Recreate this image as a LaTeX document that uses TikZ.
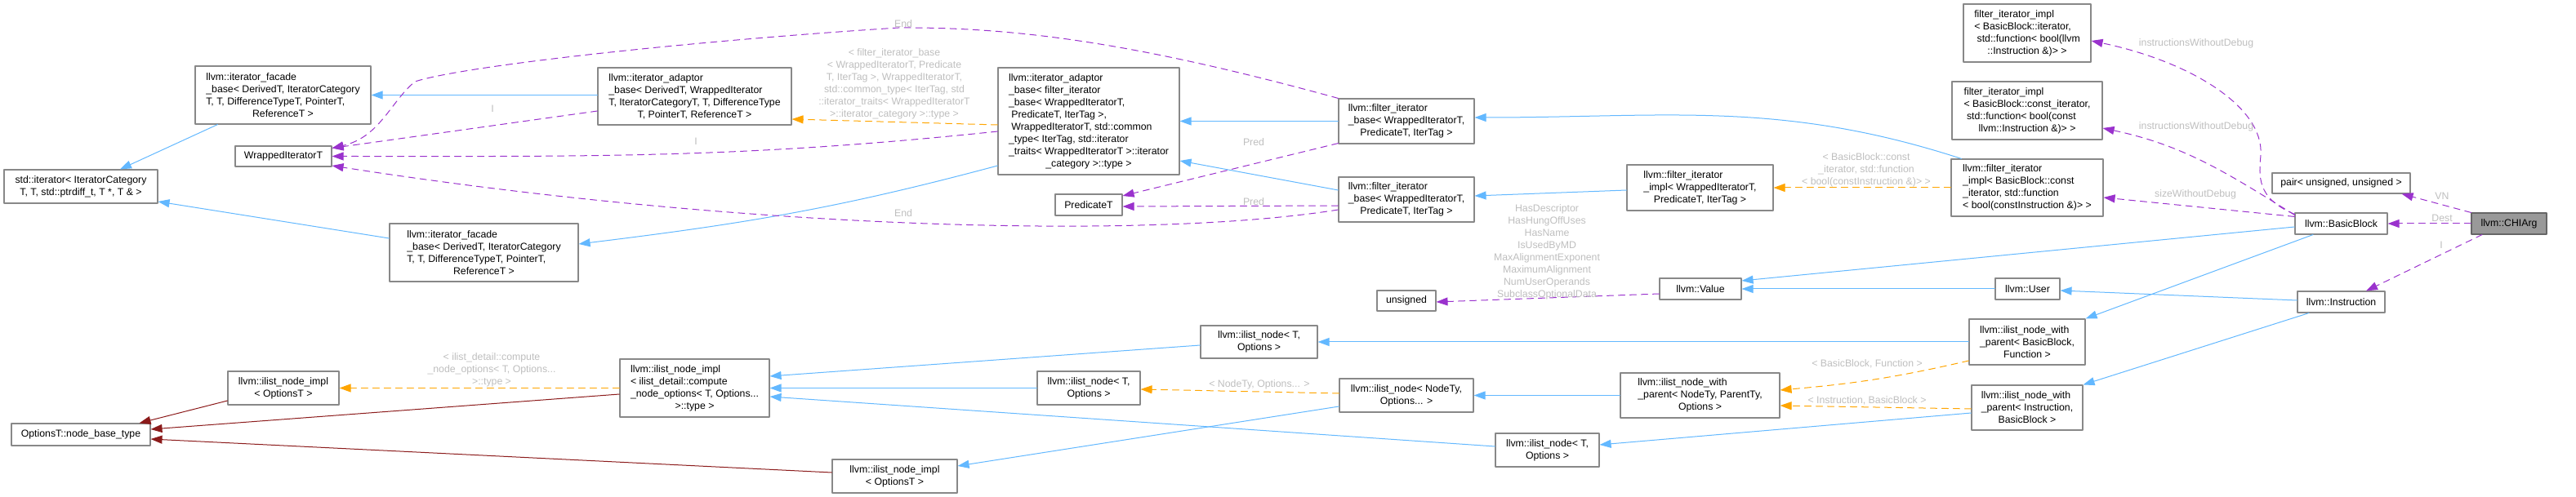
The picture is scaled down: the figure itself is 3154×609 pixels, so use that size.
\documentclass[tikz,border=0pt]{standalone}
\usepackage{fontspec}
\setmainfont{Liberation Sans}
\usetikzlibrary{arrows.meta}

\definecolor{pubblue}{HTML}{63B8FF}
\definecolor{privred}{HTML}{8B1A1A}
\definecolor{tmplorange}{HTML}{FFA500}
\definecolor{usepurple}{HTML}{9A32CD}
\definecolor{lblgray}{HTML}{BEBEBE}
\definecolor{boxgray}{HTML}{888888}
\definecolor{rootfill}{HTML}{999999}
\definecolor{rootedge}{HTML}{666666}

\newcommand{\midline}[1]{\hspace*{\fill}#1\hspace*{\fill}}

\tikzset{
  cls/.style={draw=boxgray, fill=white, line width=1.1pt, inner sep=0pt, align=left,
    font=\fontsize{12.3}{15}\selectfont},
  rootcls/.style={cls, draw=rootedge, fill=rootfill},
  boxsize/.style 2 args={minimum width=#1pt, minimum height=#2pt},
  lbl/.style={text=lblgray, inner sep=0pt, align=center, font=\fontsize{12.3}{15}\selectfont},
  pubinh/.style={color=pubblue, line width=1pt, -{Triangle[length=14pt,width=10pt]}},
  privinh/.style={color=privred, line width=1pt, -{Triangle[length=14pt,width=10pt]}},
  tmpl/.style={color=tmplorange, line width=1pt, dash pattern=on 8pt off 6pt,
    -{Triangle[length=14pt,width=10pt]}},
  usage/.style={color=usepurple, line width=1pt, dash pattern=on 8pt off 6pt,
    -{Triangle[length=14pt,width=10pt]}}
}

\begin{document}
\begin{tikzpicture}[x=1pt,y=-1pt,line cap=round,line join=round]
  \useasboundingbox (0,0) rectangle (3154,609);

  % iterator side
  \node[cls, boxsize={215}{71}] (facadeA) at (346.5,116.5)
    {llvm::iterator\_facade\\\_base< DerivedT, IteratorCategory\\T, T, DifferenceTypeT, PointerT,\\\midline{ReferenceT >}};
  \node[cls, boxsize={118}{25}] (wrapped) at (347,191.5) {WrappedIteratorT};
  \node[cls, boxsize={188}{41}] (stditer) at (99,228.5)
    {std::iterator< IteratorCategory\\\midline{T, T, std::ptrdiff\_t, T *, T \& >}};
  \node[cls, boxsize={231}{71}] (facadeB) at (592.5,309.5)
    {llvm::iterator\_facade\\\_base< DerivedT, IteratorCategory\\T, T, DifferenceTypeT, PointerT,\\\midline{ReferenceT >}};
  \node[cls, boxsize={237}{70}] (adaptorA) at (850.5,118)
    {llvm::iterator\_adaptor\\\_base< DerivedT, WrappedIterator\\T, IteratorCategoryT, T, DifferenceType\\\midline{T, PointerT, ReferenceT >}};
  \node[cls, boxsize={222}{131}] (adaptorB) at (1333,148.5)
    {llvm::iterator\_adaptor\\\_base< filter\_iterator\\\_base< WrappedIteratorT,\\\ PredicateT, IterTag >,\\\ WrappedIteratorT, std::common\\\_type< IterTag, std::iterator\\\_traits< WrappedIteratorT >::iterator\\\midline{\_category >::type >}};
  \node[cls, boxsize={82}{26}] (predicate) at (1333,251) {PredicateT};
  \node[cls, boxsize={166}{55}] (fbaseA) at (1722,148.5)
    {llvm::filter\_iterator\\\_base< WrappedIteratorT,\\\midline{PredicateT, IterTag >}};
  \node[cls, boxsize={166}{55}] (fbaseB) at (1722,244.5)
    {llvm::filter\_iterator\\\_base< WrappedIteratorT,\\\midline{PredicateT, IterTag >}};
  \node[cls, boxsize={179}{56}] (fimpl) at (2081.5,230)
    {llvm::filter\_iterator\\\_impl< WrappedIteratorT,\\\midline{PredicateT, IterTag >}};

  % ilist side
  \node[cls, boxsize={136}{41}] (ilimplA) at (347,475.5)
    {llvm::ilist\_node\_impl\\\midline{< OptionsT >}};
  \node[cls, boxsize={170}{27}] (nodebase) at (99,532.5) {OptionsT::node\_base\_type};
  \node[cls, boxsize={183}{71}] (compute) at (850.5,475.5)
    {llvm::ilist\_node\_impl\\< ilist\_detail::compute\\\_node\_options< T, Options...\\\midline{>::type >}};
  \node[cls, boxsize={153}{41}] (ilimplB) at (1095.5,583.5)
    {llvm::ilist\_node\_impl\\\midline{< OptionsT >}};
  \node[cls, boxsize={143}{40}] (inodeA) at (1541.5,419)
    {llvm::ilist\_node< T,\\\midline{Options >}};
  \node[cls, boxsize={126}{41}] (inodeB) at (1333,475.5)
    {llvm::ilist\_node< T,\\\midline{Options >}};
  \node[cls, boxsize={127}{41}] (inodeC) at (1894.5,551.5)
    {llvm::ilist\_node< T,\\\midline{Options >}};
  \node[cls, boxsize={164}{41}] (inodeNT) at (1722,484.5)
    {llvm::ilist\_node< NodeTy,\\\midline{Options... >}};
  \node[cls, boxsize={195}{55}] (inwpNT) at (2081.5,484.5)
    {llvm::ilist\_node\_with\\\_parent< NodeTy, ParentTy,\\\midline{Options >}};
  \node[cls, boxsize={72}{25}] (unsigned) at (1722,368.5) {unsigned};
  \node[cls, boxsize={100}{26}] (value) at (2082,354) {llvm::Value};

  % right column
  \node[cls, boxsize={156}{71}] (fimplIt) at (2482,40.5)
    {filter\_iterator\_impl\\< BasicBlock::iterator,\\\ std::function< bool(llvm\\\midline{::Instruction \&)> >}};
  \node[cls, boxsize={184}{71}] (fimplCIt) at (2482,135.5)
    {filter\_iterator\_impl\\< BasicBlock::const\_iterator,\\\ std::function< bool(const\\\midline{llvm::Instruction \&)> >}};
  \node[cls, boxsize={186}{70}] (fimplBB) at (2482,230)
    {llvm::filter\_iterator\\\_impl< BasicBlock::const\\\_iterator, std::function\\\midline{< bool(constInstruction \&)> >}};
  \node[cls, boxsize={79}{26}] (user) at (2482.5,354) {llvm::User};
  \node[cls, boxsize={142}{56}] (inwpBB) at (2482,419)
    {llvm::ilist\_node\_with\\\_parent< BasicBlock,\\\midline{Function >}};
  \node[cls, boxsize={136}{55}] (inwpI) at (2482,499.5)
    {llvm::ilist\_node\_with\\\_parent< Instruction,\\\midline{BasicBlock >}};
  \node[cls, boxsize={169}{25}] (pair) at (2866.5,224.5) {pair< unsigned, unsigned >};
  \node[cls, boxsize={113}{26}] (bblock) at (2866.5,274) {llvm::BasicBlock};
  \node[cls, boxsize={107}{26}] (instr) at (2866.5,370) {llvm::Instruction};
  \node[rootcls, boxsize={92}{26}] (chiarg) at (3072,274) {llvm::CHIArg};

  % public inheritance
  \draw[pubinh] ([xshift=-80pt]facadeA.south) -- ([xshift=48pt]stditer.north);
  \draw[pubinh] ([yshift=17.5pt]facadeB.west) -- ([yshift=-18.5pt]stditer.east);
  \draw[pubinh] (adaptorA.west |- facadeA.east) -- (facadeA.east);
  \draw[pubinh] ([yshift=-54.5pt]adaptorB.west) to[out=195,in=7] ([yshift=10.5pt]facadeB.east);
  \draw[pubinh] (fbaseA.west) -- (adaptorB.east);
  \draw[pubinh] ([yshift=11.5pt]fbaseB.west) -- ([yshift=-48.5pt]adaptorB.east);
  \draw[pubinh] ([yshift=-3pt]fimpl.west) -- ([yshift=4.5pt]fbaseB.east);
  \draw[pubinh] ([xshift=13pt]fimplBB.north west) to[out=162,in=0] ([yshift=4.5pt]fbaseA.east);
  \draw[pubinh] ([yshift=-4pt]bblock.west) -- ([yshift=10pt]value.east);
  \draw[pubinh] (user.west) -- (value.east);
  \draw[pubinh] ([yshift=2pt]instr.west) -- ([yshift=-2pt]user.east);
  \draw[pubinh] ([xshift=-34.5pt]bblock.south) -- (inwpBB.north east);
  \draw[pubinh] ([xshift=-39.5pt]instr.south) -- (inwpI.north east);
  \draw[pubinh] (inwpBB.west) -- (inodeA.east);
  \draw[pubinh] ([yshift=-6.5pt]inwpI.west) -- ([yshift=6.5pt]inodeC.east);
  \draw[pubinh] (inwpNT.west) -- (inodeNT.east);
  \draw[pubinh] ([yshift=-4pt]inodeA.west) -- ([yshift=14.5pt]compute.east);
  \draw[pubinh] (inodeB.west) -- (compute.east);
  \draw[pubinh] ([yshift=4.5pt]inodeC.west) -- ([yshift=-10.5pt]compute.east);
  \draw[pubinh] ([yshift=-13.5pt]inodeNT.west) -- ([yshift=12.5pt]ilimplB.east);

  % private inheritance
  \draw[privinh] ([yshift=-15.5pt]ilimplA.west) -- ([xshift=-14pt]nodebase.north east);
  \draw[privinh] ([yshift=-7.5pt]compute.west) -- ([yshift=6.5pt]nodebase.east);
  \draw[privinh] ([yshift=4.5pt]ilimplB.west) -- ([yshift=-5.5pt]nodebase.east);

  % template instances
  \draw[tmpl] (compute.west) -- (ilimplA.east);
  \draw[tmpl] ([yshift=2.5pt]inodeNT.west) -- ([yshift=-1.5pt]inodeB.east);
  \draw[tmpl] ([yshift=-4.5pt]adaptorB.west) -- ([yshift=-28pt]adaptorA.east);
  \draw[tmpl] (fimplBB.west) -- (fimpl.east);
  \draw[tmpl] ([yshift=-23pt]inwpBB.west) to[out=193,in=5] ([yshift=6.5pt]inwpNT.east);
  \draw[tmpl] ([yshift=-1.5pt]inwpI.west) -- ([yshift=-12.5pt]inwpNT.east);

  % members
  \draw[usage] (chiarg.north west) -- ([xshift=-11pt]pair.south east);
  \draw[usage] (chiarg.west) -- (bblock.east);
  \draw[usage] ([xshift=-33pt]chiarg.south) -- ([xshift=30.5pt]instr.north);
  \draw[usage] ([yshift=-2pt]bblock.north west) .. controls (2762,243) and (2766,215) .. (2768,190)
    .. controls (2772,130) and (2680,75) .. ([yshift=-9.5pt]fimplIt.east);
  \draw[usage] ([yshift=-3pt]bblock.north west) to[out=148,in=-12] ([yshift=-21.5pt]fimplCIt.east);
  \draw[usage] ([yshift=-5pt]bblock.north west) -- ([yshift=-12pt]fimplBB.east);
  \draw[usage] ([yshift=-6pt]value.west) -- ([yshift=-1.5pt]unsigned.east);
  \draw[usage] (fbaseA.north west) .. controls (1400,55) and (1250,33) .. (1100,34)
    .. controls (850,50) and (570,80) .. (508,100)
    .. controls (478,125) and (465,168) .. ([yshift=10pt]wrapped.east);
  \draw[usage] ([yshift=-12.5pt]fbaseB.west) .. controls (1400,295) and (900,280) .. ([yshift=-11.5pt]wrapped.east);
  \draw[usage] ([yshift=1pt]fbaseA.south west) -- ([yshift=11pt]predicate.east);
  \draw[usage] ([yshift=-7.5pt]fbaseB.west) -- ([yshift=-2pt]predicate.east);
  \draw[usage] ([yshift=-18pt]adaptorA.west) -- ([yshift=10pt]wrapped.east);
  \draw[usage] ([yshift=-12.5pt]adaptorB.west) to[out=186,in=0] (wrapped.east);

  % edge labels
  \node[lbl] (lCompute) at (602,453) {< ilist\_detail::compute\\\_node\_options< T, Options...\\>::type >};
  \node[lbl] (lNodeTy) at (1542,471) {< NodeTy, Options... >};
  \node[lbl] (lAdaptor) at (1095,103)
    {< filter\_iterator\_base\\< WrappedIteratorT, Predicate\\T, IterTag >, WrappedIteratorT,\\std::common\_type< IterTag, std\\::iterator\_traits< WrappedIteratorT\\>::iterator\_category >::type >};
  \node[lbl] (lConstIt) at (2285,208) {< BasicBlock::const\\\_iterator, std::function\\< bool(constInstruction \&)> >};
  \node[lbl] (lBBFn) at (2286,446) {< BasicBlock, Function >};
  \node[lbl] (lInstrBB) at (2286,491) {< Instruction, BasicBlock >};
  \node[lbl] (lValue) at (1894,308.5)
    {HasDescriptor\\HasHungOffUses\\HasName\\IsUsedByMD\\MaxAlignmentExponent\\MaximumAlignment\\NumUserOperands\\SubclassOptionalData};
  \node[lbl] (lIWDa) at (2689,53) {instructionsWithoutDebug};
  \node[lbl] (lIWDb) at (2689,155) {instructionsWithoutDebug};
  \node[lbl] (lSWD) at (2688,238) {sizeWithoutDebug};
  \node[lbl] (lVN) at (2990,240) {VN};
  \node[lbl] (lDest) at (2990,267) {Dest};
  \node[lbl] (lInstr) at (2989,300) {I};
  \node[lbl] (lEndA) at (1106,29) {End};
  \node[lbl] (lEndB) at (1106,261) {End};
  \node[lbl] (lPredA) at (1535,174) {Pred};
  \node[lbl] (lPredB) at (1535,247) {Pred};
  \node[lbl] (lIA) at (603,133) {I};
  \node[lbl] (lIB) at (852,173) {I};
\end{tikzpicture}
\end{document}
